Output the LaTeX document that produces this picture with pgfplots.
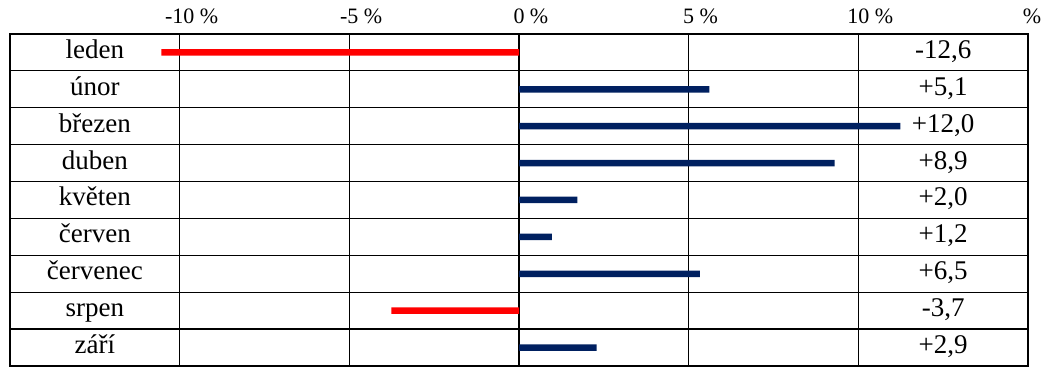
\documentclass[border=0pt]{standalone}
\usepackage{pgfplots}
\pgfplotsset{compat=1.18}
\usepackage{fontspec}
\setmainfont{Liberation Serif}
\definecolor{navy}{HTML}{002060}
\definecolor{barred}{HTML}{FF0000}
\begin{document}
\begin{tikzpicture}
\begin{axis}[
  scale only axis, width=509pt, height=166pt,
  xmin=-15, xmax=15, ymin=0, ymax=9, y dir=reverse,
  axis line style={black, line width=0.6pt},
  xtick={-10,-5,0,5,10,15},
  xticklabels={{\makebox[0pt]{-10\rlap{\ \%}}},{\makebox[0pt]{-5\rlap{\ \%}}},{\makebox[0pt]{0\rlap{\ \%}}},{\makebox[0pt]{5\rlap{\ \%}}},{\makebox[0pt]{10\rlap{\ \%}}},{\makebox[0pt]{\hspace{4pt}\%}}},
  xticklabel pos=upper,
  xticklabel style={font=\fontsize{11}{13}\selectfont, anchor=base, inner sep=0pt, yshift=5pt},
  major tick length=0pt,
  xmajorgrids, ymajorgrids,
  grid style={black, line width=0.6pt},
  ytick={1,2,3,4,5,6,7,8}, yticklabels={},
  xbar, bar width=3.25pt, bar shift=0pt,
  clip=false,
]
\addplot[draw=none, fill=barred] coordinates {(-10.54,0.5) (-3.76,7.5)};
\addplot[draw=none, fill=navy] coordinates {(5.61,1.5) (11.24,2.5) (9.30,3.5) (1.72,4.5) (0.97,5.5) (5.33,6.5) (2.29,8.5)};
\coordinate (sw) at (axis cs:-15,9);
\coordinate (ne) at (axis cs:15,0);
\tikzset{lab/.style={anchor=base, yshift=-3pt, inner sep=0pt, font=\fontsize{13.5}{15}\selectfont}}
\node[lab] at (axis cs:-12.5,0.5) {leden};
\node[lab] at (axis cs:-12.5,1.5) {únor};
\node[lab] at (axis cs:-12.5,2.5) {březen};
\node[lab] at (axis cs:-12.5,3.5) {duben};
\node[lab] at (axis cs:-12.5,4.5) {květen};
\node[lab] at (axis cs:-12.5,5.5) {červen};
\node[lab] at (axis cs:-12.5,6.5) {červenec};
\node[lab] at (axis cs:-12.5,7.5) {srpen};
\node[lab] at (axis cs:-12.5,8.5) {září};
\node[lab] at (axis cs:12.5,0.5) {-12,6};
\node[lab] at (axis cs:12.5,1.5) {+5,1};
\node[lab] at (axis cs:12.5,2.5) {+12,0};
\node[lab] at (axis cs:12.5,3.5) {+8,9};
\node[lab] at (axis cs:12.5,4.5) {+2,0};
\node[lab] at (axis cs:12.5,5.5) {+1,2};
\node[lab] at (axis cs:12.5,6.5) {+6,5};
\node[lab] at (axis cs:12.5,7.5) {-3,7};
\node[lab] at (axis cs:12.5,8.5) {+2,9};
\end{axis}
\pgfresetboundingbox
\path[use as bounding box] ([shift={(-5pt,-1pt)}]sw) rectangle ([shift={(11pt,17pt)}]ne);
\end{tikzpicture}
\end{document}
